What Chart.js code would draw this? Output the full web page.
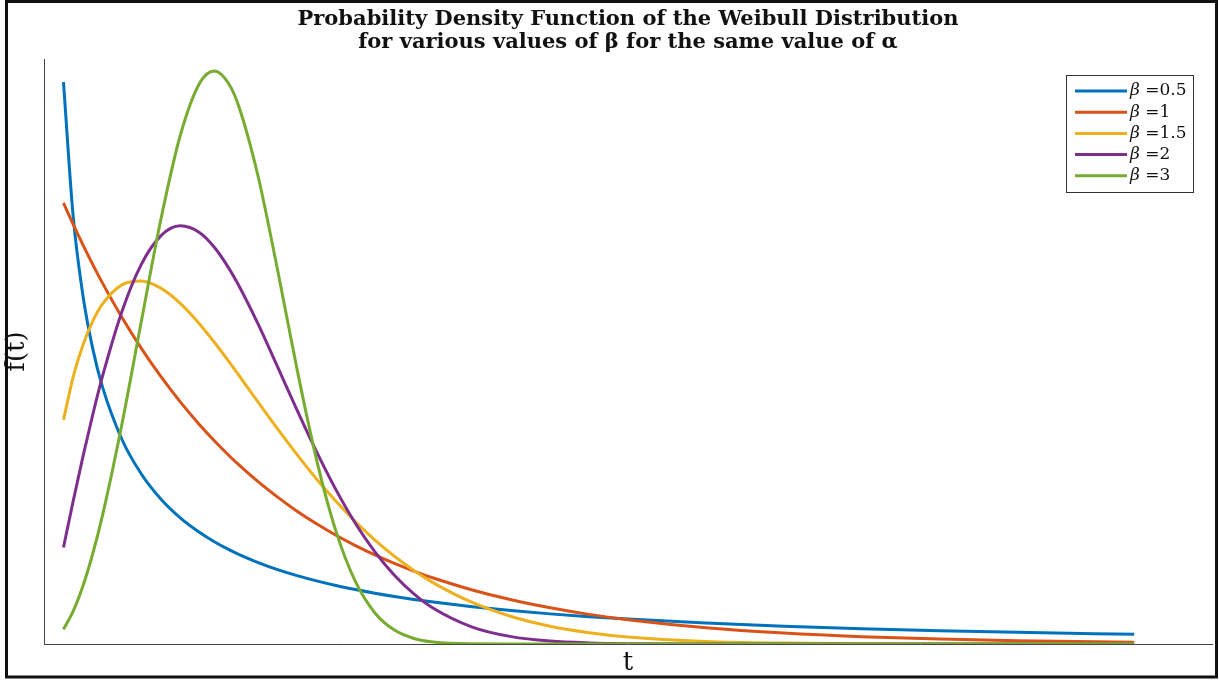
<!DOCTYPE html>
<html>
<head>
<meta charset="utf-8">
<script src="https://cdn.jsdelivr.net/npm/chart.js@4.4.1/dist/chart.umd.min.js"></script>
<style>
  html, body { margin: 0; padding: 0; background: #ffffff; }
  #wrap { width: 1219px; height: 681px; }
</style>
</head>
<body>
<div id="wrap"><canvas id="c" width="1219" height="681"></canvas></div>
<script>
// ---- data ----
const tValues = [0.1,0.15,0.2,0.25,0.3,0.4,0.5,0.6,0.7,0.8,0.875,0.95,1.0,1.1,1.2,1.3,1.4,1.5,1.6,1.7,1.8,1.9,2.0,2.2,2.4,2.6,2.8,3.0,3.4,3.8,4.2,4.6,5.0,5.6];
const beta05 = [1.1525,0.8765,0.7149,0.6065,0.5279,0.4200,0.3487,0.2975,0.2588,0.2286,0.2098,0.1935,0.1839,0.1671,0.1526,0.1402,0.1294,0.1199,0.1116,0.1041,0.0974,0.0914,0.0860,0.0765,0.0685,0.0618,0.0561,0.0511,0.0429,0.0365,0.0314,0.0273,0.0239,0.0198];
const beta1  = [0.9048,0.8607,0.8187,0.7788,0.7408,0.6703,0.6065,0.5488,0.4966,0.4493,0.4169,0.3867,0.3679,0.3329,0.3012,0.2725,0.2466,0.2231,0.2019,0.1827,0.1653,0.1496,0.1353,0.1108,0.0907,0.0743,0.0608,0.0498,0.0334,0.0224,0.0150,0.0101,0.0067,0.0037];
const beta15 = [0.4596,0.5482,0.6134,0.6619,0.6971,0.7367,0.7448,0.7300,0.6987,0.6561,0.6189,0.5792,0.5518,0.4963,0.4413,0.3886,0.3386,0.2926,0.2507,0.2131,0.1799,0.1507,0.1254,0.0852,0.0564,0.0365,0.0232,0.0144,0.0052,0.0018,0.0006,0.0002,0.0000,0.0000];
const beta2  = [0.1980,0.2933,0.3843,0.4697,0.5483,0.6817,0.7788,0.8372,0.8577,0.8437,0.8138,0.7706,0.7358,0.6561,0.5686,0.4797,0.3945,0.3162,0.2473,0.1890,0.1410,0.1028,0.0733,0.0348,0.0151,0.0060,0.0022,0.0007,0.0001,0,0,0,0,0];
const beta3  = [0.0300,0.0673,0.1190,0.1846,0.2628,0.4502,0.6619,0.8702,1.0431,1.1507,1.1755,1.1488,1.1036,0.9590,0.7672,0.5633,0.3783,0.2310,0.1278,0.0637,0.0285,0.0114,0.0040,0.0003,0,0,0,0,0,0,0,0,0,0];
const seriesLabels = ['\u03B2 =0.5', '\u03B2 =1', '\u03B2 =1.5', '\u03B2 =2', '\u03B2 =3'];
const titleLines = ['Probability Density Function of the Weibull Distribution', 'for various values of \u03B2 for the same value of \u03B1'];
const xTitle = 't';
const yTitle = 'f(t)';

const colors = ['#0072BD', '#D95319', '#EDB120', '#7E2F8E', '#77AC30'];
const seriesValues = [beta05, beta1, beta15, beta2, beta3];
const SERIF = "'DejaVu Serif', 'Liberation Serif', serif";

const datasets = seriesValues.map((vals, i) => ({
  label: seriesLabels[i],
  data: tValues.map((t, k) => ({ x: t, y: vals[k] })),
  borderColor: colors[i],
  backgroundColor: colors[i],
  borderWidth: 3,
  pointRadius: 0,
  fill: false,
  cubicInterpolationMode: 'monotone',
  order: seriesValues.length - 1 - i
}));

const framePlugin = {
  id: 'frame',
  beforeDraw(chart) {
    const ctx = chart.ctx;
    ctx.save();
    ctx.fillStyle = '#ffffff';
    ctx.fillRect(0, 0, chart.width, chart.height);
    ctx.restore();
  },
  afterDraw(chart) {
    const ctx = chart.ctx;
    ctx.save();
    ctx.strokeStyle = '#111111';
    ctx.lineWidth = 3;
    ctx.strokeRect(6.5, 1.5, 1210, 675.5);
    ctx.restore();
  }
};

const legendBoxPlugin = {
  id: 'legendBox',
  afterDatasetsDraw(chart) {
    const ctx = chart.ctx;
    const x0 = 1066.5, y0 = 75.5, w = 127, h = 117;
    ctx.save();
    ctx.fillStyle = '#ffffff';
    ctx.fillRect(x0, y0, w, h);
    ctx.strokeStyle = '#333333';
    ctx.lineWidth = 1;
    ctx.strokeRect(x0, y0, w, h);
    ctx.textBaseline = 'middle';
    ctx.textAlign = 'left';
    chart.data.datasets.forEach((ds, i) => {
      const y = 91 + i * 21.2;
      ctx.strokeStyle = ds.borderColor;
      ctx.lineWidth = 3;
      ctx.beginPath();
      ctx.moveTo(1075, y);
      ctx.lineTo(1127, y);
      ctx.stroke();
      ctx.fillStyle = '#111111';
      const first = ds.label.charAt(0);
      const rest = ds.label.slice(1);
      ctx.font = "italic 17px " + SERIF;
      ctx.fillText(first, 1130, y);
      const w1 = ctx.measureText(first).width;
      ctx.font = "17px " + SERIF;
      ctx.fillText(rest, 1130 + w1, y);
    });
    ctx.restore();
  }
};

new Chart(document.getElementById('c'), {
  type: 'line',
  data: { datasets },
  options: {
    responsive: false,
    devicePixelRatio: 1,
    animation: false,
    layout: { padding: { left: 0, right: 7, top: 0, bottom: 0 } },
    plugins: {
      legend: { display: false },
      tooltip: { enabled: false },
      title: {
        display: true,
        fullSize: false,
        text: titleLines,
        color: '#111111',
        font: { family: SERIF, size: 21, weight: 'bold', lineHeight: 1.1 },
        padding: { top: 7.5, bottom: 5.3 }
      }
    },
    scales: {
      x: {
        type: 'linear',
        min: 0,
        max: 6,
        grid: { display: false, drawTicks: false },
        border: { display: true, color: '#444444', width: 1 },
        ticks: { display: false },
        title: { display: true, text: xTitle, color: '#111111', font: { family: SERIF, size: 26, lineHeight: 1.2 }, padding: { top: 0, bottom: 2 } },
        afterFit(scale) { scale.height = 37; }
      },
      y: {
        type: 'linear',
        min: 0,
        max: 1.2,
        grid: { display: false, drawTicks: false },
        border: { display: true, color: '#444444', width: 1 },
        ticks: { display: false },
        title: { display: true, text: yTitle, color: '#111111', font: { family: SERIF, size: 26, lineHeight: 1.2 }, padding: { top: 2, bottom: 0 } },
        afterFit(scale) { scale.width = 44; }
      }
    }
  },
  plugins: [framePlugin, legendBoxPlugin]
});
</script>
</body>
</html>
